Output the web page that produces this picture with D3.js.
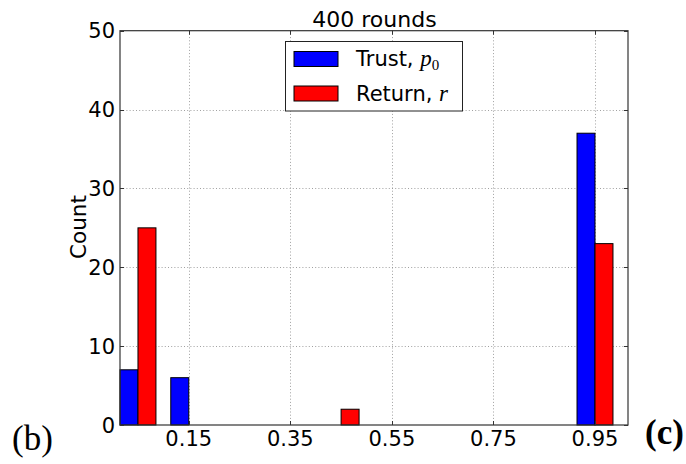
<!DOCTYPE html>
<html>
<head>
<meta charset="utf-8">
<script src="https://cdn.jsdelivr.net/npm/d3@7"></script>
<style>
  html, body { margin: 0; padding: 0; background: #fff; }
  svg { display: block; }
  text { font-family: "DejaVu Sans", sans-serif; fill: #000; }
</style>
</head>
<body>
<svg id="chart" width="686" height="464"></svg>
<script>
// Histogram bins (bin centres) and counts for the two quantities
const binCenters = [0.05, 0.15, 0.25, 0.35, 0.45, 0.55, 0.65, 0.75, 0.85, 0.95];
const trustCounts = [7, 6, 0, 0, 0, 0, 0, 0, 0, 37];
const returnCounts = [25, 0, 0, 0, 2, 0, 0, 0, 0, 23];
const xTickValues = [0.15, 0.35, 0.55, 0.75, 0.95];
const yTickValues = [0, 10, 20, 30, 40, 50];
const seriesNames = ["Trust", "Return"];
const titleText = "400 rounds";

const svg = d3.select("#chart");
const plotL = 120, plotR = 628, plotT = 30.7, plotB = 425;
const barW = 0.0354; // width of one bar in data units
const fs = "21px";

const x = d3.scaleLinear().domain([0.05 - barW, 1.015]).range([plotL, plotR]);
const y = d3.scaleLinear().domain([0, 50]).range([plotB, plotT]);

// grid
const grid = svg.append("g").attr("stroke", "#888").attr("stroke-width", 0.8)
  .attr("stroke-dasharray", "1,2.2");
grid.selectAll("line.gx").data(xTickValues).join("line")
  .attr("x1", d => Math.round(x(d)) + 0.5).attr("x2", d => Math.round(x(d)) + 0.5)
  .attr("y1", plotT).attr("y2", plotB);
grid.selectAll("line.gy").data(yTickValues.filter(d => d > 0 && d < 50)).join("line")
  .attr("y1", d => Math.round(y(d)) + 0.5).attr("y2", d => Math.round(y(d)) + 0.5)
  .attr("x1", plotL).attr("x2", plotR);

// bars
const bars = svg.append("g").attr("stroke", "#000").attr("stroke-width", 1);
const trustData = binCenters.map((c, i) => ({c, v: trustCounts[i]})).filter(d => d.v > 0);
const returnData = binCenters.map((c, i) => ({c, v: returnCounts[i]})).filter(d => d.v > 0);
bars.selectAll("rect.t").data(trustData).join("rect")
  .attr("fill", "#0000ff")
  .attr("x", d => x(d.c - barW)).attr("width", d => x(d.c) - x(d.c - barW))
  .attr("y", d => y(d.v)).attr("height", d => y(0) - y(d.v));
bars.selectAll("rect.r").data(returnData).join("rect")
  .attr("fill", "#ff0000")
  .attr("x", d => x(d.c)).attr("width", d => x(d.c + barW) - x(d.c))
  .attr("y", d => y(d.v)).attr("height", d => y(0) - y(d.v));

// frame
svg.append("rect").attr("x", plotL).attr("y", plotT)
  .attr("width", plotR - plotL).attr("height", plotB - plotT)
  .attr("fill", "none").attr("stroke", "#333").attr("stroke-width", 1.2);

// inward ticks on all four sides
const ticks = svg.append("g").attr("stroke", "#333").attr("stroke-width", 1);
xTickValues.forEach(d => {
  const px = Math.round(x(d)) + 0.5;
  ticks.append("line").attr("x1", px).attr("x2", px).attr("y1", plotB).attr("y2", plotB - 4);
  ticks.append("line").attr("x1", px).attr("x2", px).attr("y1", plotT).attr("y2", plotT + 4);
});
yTickValues.forEach(d => {
  const py = Math.round(y(d)) + 0.5;
  ticks.append("line").attr("x1", plotL).attr("x2", plotL + 4).attr("y1", py).attr("y2", py);
  ticks.append("line").attr("x1", plotR).attr("x2", plotR - 4).attr("y1", py).attr("y2", py);
});

// tick labels
svg.append("g").selectAll("text").data(xTickValues).join("text")
  .attr("x", d => x(d)).attr("y", 445.5).attr("text-anchor", "middle")
  .style("font-size", fs).text(d => d3.format(".2f")(d));
svg.append("g").selectAll("text").data(yTickValues).join("text")
  .attr("x", 115).attr("y", d => y(d) + 7.6).attr("text-anchor", "end")
  .style("font-size", fs).text(d => d);

// axis label and title
svg.append("text").attr("transform", "translate(86,227) rotate(-90)")
  .attr("text-anchor", "middle").style("font-size", "21.5px").text("Count");
svg.append("text").attr("x", 374.5).attr("y", 26.5).attr("text-anchor", "middle")
  .style("font-size", "22px").text(titleText);

// legend
const lg = svg.append("g");
lg.append("rect").attr("x", 285.5).attr("y", 41.5).attr("width", 177).attr("height", 69.5)
  .attr("fill", "#fff").attr("stroke", "#222").attr("stroke-width", 1);
const legendRows = [
  {name: seriesNames[0], color: "#0000ff", sym: "p", sub: "0", y: 59},
  {name: seriesNames[1], color: "#ff0000", sym: "r", sub: null, y: 93.5}
];
legendRows.forEach(r => {
  lg.append("rect").attr("x", 294).attr("y", r.y - 7.5).attr("width", 44).attr("height", 15)
    .attr("fill", r.color).attr("stroke", "#000").attr("stroke-width", 1);
  const t = lg.append("text").attr("x", 356).attr("y", r.y + 7.3).style("font-size", fs);
  t.append("tspan").text(r.name + ", ");
  t.append("tspan").style("font-family", "'Liberation Serif', serif").style("font-style", "italic")
    .style("font-size", "23px").text(r.sym);
  if (r.sub) {
    t.append("tspan").attr("dy", 4).style("font-family", "'Liberation Serif', serif")
      .style("font-size", "15px").text(r.sub);
  }
});

// panel markers
svg.append("text").attr("x", 12).attr("y", 450)
  .style("font-family", "'Liberation Serif', serif").style("font-size", "35px").text("(b)");
svg.append("text").attr("x", 645).attr("y", 444)
  .style("font-family", "'Liberation Serif', serif").style("font-weight", "bold")
  .style("font-size", "35px").text("(c)");
</script>
</body>
</html>
